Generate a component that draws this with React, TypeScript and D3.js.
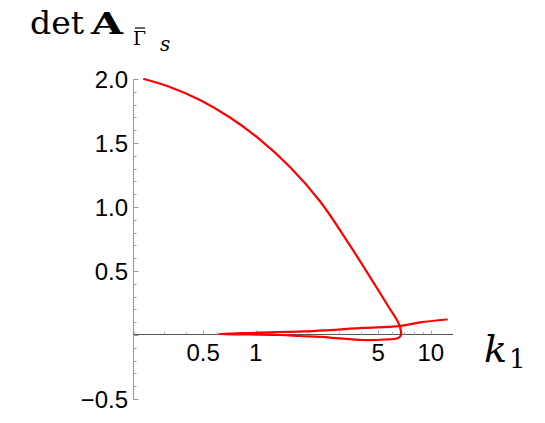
import React from 'react';
import * as d3 from 'd3';

// parametric curve (k1, det A), in order along the curve
const k1Values = [
  0.23, 0.323, 0.48, 0.712, 1.057, 1.568, 2.327, 3.453, 4.8, 5.847, 6.496,
  6.755, 6.72, 6.41, 5.47, 4.1, 2.65, 1.79, 1.375, 0.926, 0.616,
  1.016, 2.123, 4.1, 6.56, 8.68, 12.35,
];
const detValues = [
  2.0, 1.938, 1.836, 1.699, 1.527, 1.313, 1.045, 0.7, 0.391, 0.203, 0.102,
  0.031, -0.008, -0.027, -0.035, -0.039, -0.02, -0.008, 0.0, 0.004, 0.008,
  0.018, 0.031, 0.055, 0.07, 0.098, 0.121,
];

const xTickLabels = [0.5, 1, 5, 10];
const yTickLabels = [-0.5, 0.5, 1.0, 1.5, 2.0];

const W = 545;
const H = 423;

const App = () => {
  const x = d3.scaleLog().domain([0.2, 13.4]).range([133.5, 453]);
  const y = d3.scaleLinear().domain([-0.5, 2.0]).range([399, 79]);
  const y0 = Math.round(y(0)) - 0.5;

  const pts: [number, number][] = k1Values.map((k, i) => [x(k), y(detValues[i])]);
  const line = d3.line().curve(d3.curveCatmullRom.alpha(0.5));

  const xMinor = x.ticks(20).filter(t => t >= 0.2 && t <= 13);
  const yMinor = d3.range(-5, 21).map(i => i / 10);

  const fmt = (v: number) => (v < 0 ? '\u2212' : '') + Math.abs(v).toFixed(1);

  return (
    <svg width={W} height={H} style={{ position: 'absolute', left: 0, top: 0, background: '#fff' }}>
      {/* y axis */}
      <line x1={133.5} x2={133.5} y1={y(2.0)} y2={y(-0.5)} stroke="#999" strokeWidth={1} />
      {yMinor.map(v => {
        const major = Math.abs(v * 2 - Math.round(v * 2)) < 1e-6;
        return (
          <line key={'yt' + v} x1={133.5} x2={133.5 + (major ? 5 : 3)}
            y1={Math.round(y(v)) + 0.5} y2={Math.round(y(v)) + 0.5} stroke="#999" strokeWidth={1} />
        );
      })}
      {yTickLabels.map(v => (
        <text key={'yl' + v} x={128} y={y(v)} dy="0.36em" textAnchor="end"
          fontFamily="Liberation Sans, Arial, sans-serif" fontSize={24} fill="#000">{fmt(v)}</text>
      ))}

      {/* x axis */}
      <line x1={133.5} x2={453} y1={y0} y2={y0} stroke="#555" strokeWidth={1} />
      {xMinor.map(t => {
        const major = xTickLabels.includes(t);
        return (
          <line key={'xt' + t} x1={Math.round(x(t)) + 0.5} x2={Math.round(x(t)) + 0.5}
            y1={y0} y2={y0 - (major ? 4 : 2.5)} stroke="#aaa" strokeWidth={1} />
        );
      })}
      {xTickLabels.map(t => (
        <text key={'xl' + t} x={x(t)} y={361} textAnchor="middle"
          fontFamily="Liberation Sans, Arial, sans-serif" fontSize={24} fill="#000">{String(t)}</text>
      ))}

      {/* curve */}
      <path d={line(pts) || ''} fill="none" stroke="#ff0000" strokeWidth={2.2}
        strokeLinejoin="round" strokeLinecap="round" />

      {/* axis labels */}
      <text x={30} y={33.5} fontFamily="DejaVu Serif" fontSize={31} textLength={54} lengthAdjust="spacingAndGlyphs">det</text>
      <text x={91} y={33.5} fontFamily="DejaVu Serif" fontWeight="bold" fontSize={30} textLength={32} lengthAdjust="spacingAndGlyphs">A</text>
      <text x={133} y={45} fontFamily="DejaVu Serif" fontSize={18} textLength={13} lengthAdjust="spacingAndGlyphs">Γ</text>
      <line x1={135} x2={145} y1={28} y2={28} stroke="#000" strokeWidth={1.2} />
      <text x={160} y={50.5} fontFamily="DejaVu Serif" fontStyle="italic" fontSize={20}>s</text>

      <text x={484} y={361.5} fontFamily="DejaVu Serif" fontStyle="italic" fontSize={38}>k</text>
      <text x={509} y={368} fontFamily="DejaVu Serif" fontSize={26}>1</text>
    </svg>
  );
};

export default App;
